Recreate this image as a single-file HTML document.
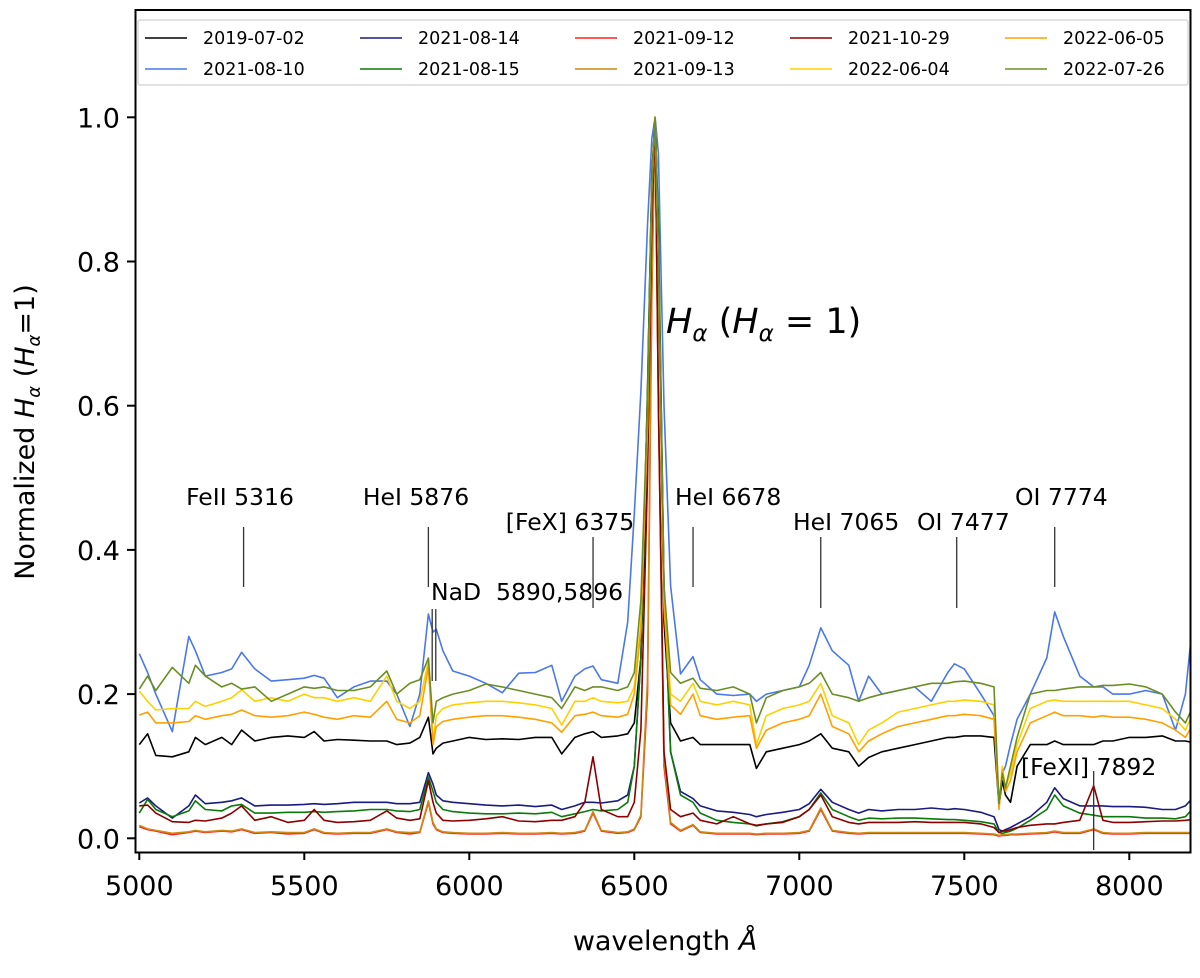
<!DOCTYPE html>
<html><head><meta charset="utf-8"><style>
body{margin:0;background:#fff;}
svg{display:block;font-family:"DejaVu Sans","Liberation Sans",sans-serif;}
</style></head><body>
<svg id="chart" width="1200" height="978" viewBox="0 0 1200 978" xmlns="http://www.w3.org/2000/svg">
<defs><clipPath id="clip"><rect x="136" y="10" width="1055" height="842"/></clipPath></defs>
<rect x="0" y="0" width="1200" height="978" fill="#fff"/>
<g id="series" clip-path="url(#clip)"></g>
<g id="annot"></g>
<rect x="135.5" y="10" width="1055" height="842.5" fill="none" stroke="#000" stroke-width="2"/>
<g id="xticks"></g>
<g id="yticks"></g>
<text x="665" y="950" font-size="27" text-anchor="middle">wavelength <tspan font-style="italic">Å</tspan></text>
<text transform="translate(34,432) rotate(-90)" font-size="27" text-anchor="middle">Normalized <tspan font-style="italic">H</tspan><tspan font-style="italic" font-size="18" dy="6">α</tspan><tspan dy="-6">   (</tspan><tspan font-style="italic">H</tspan><tspan font-style="italic" font-size="18" dy="6">α</tspan><tspan dy="-6">=1)</tspan></text>
<text x="666" y="333" font-size="35"><tspan font-style="italic">H</tspan><tspan font-style="italic" font-size="23" dy="8">α</tspan><tspan dy="-8"> (</tspan><tspan font-style="italic">H</tspan><tspan font-style="italic" font-size="23" dy="8">α</tspan><tspan dy="-8"> = 1)</tspan></text>
<g id="legend"></g>
</svg>
<script>
const wl=[5000,5025,5050,5100,5150,5170,5200,5250,5280,5310,5350,5400,5450,5500,5530,5560,5600,5650,5700,5750,5780,5820,5850,5876,5890,5900,5920,5950,6000,6050,6100,6150,6200,6250,6280,6320,6350,6375,6400,6450,6480,6500,6520,6540,6553,6563,6573,6590,6610,6640,6678,6700,6750,6800,6850,6870,6900,6950,7000,7030,7065,7100,7150,7180,7210,7250,7300,7350,7400,7450,7470,7500,7550,7590,7605,7615,7625,7640,7660,7700,7750,7774,7800,7850,7892,7920,7950,8000,8050,8100,8140,8170,8190];
const seriesLabels=["2019-07-02","2021-08-10","2021-08-14","2021-08-15","2021-09-12","2021-09-13","2021-10-29","2022-06-04","2022-06-05","2022-07-26"];
const s20190702=[.13,.145,.115,.113,.12,.14,.13,.14,.13,.15,.135,.14,.142,.14,.148,.135,.137,.136,.135,.135,.13,.132,.14,.168,.117,.125,.132,.135,.14,.137,.138,.137,.14,.14,.117,.14,.145,.148,.14,.142,.145,.16,.25,.55,.9,1.0,.8,.3,.16,.135,.14,.13,.13,.13,.13,.097,.12,.125,.13,.135,.145,.125,.12,.1,.112,.12,.125,.13,.135,.14,.14,.142,.142,.14,.045,.08,.06,.05,.1,.13,.13,.135,.13,.13,.13,.135,.135,.14,.14,.142,.135,.135,.133];
const s20210810=[.256,.23,.2,.148,.28,.26,.225,.23,.235,.258,.235,.218,.22,.222,.226,.222,.195,.21,.218,.218,.2,.155,.2,.311,.286,.29,.26,.232,.225,.215,.202,.229,.23,.24,.19,.225,.235,.239,.22,.215,.3,.45,.62,.85,.97,1.0,.95,.6,.35,.228,.252,.22,.2,.198,.2,.19,.2,.205,.21,.24,.292,.26,.24,.19,.225,.2,.205,.21,.19,.23,.242,.235,.2,.17,.05,.09,.1,.13,.165,.2,.25,.314,.28,.225,.21,.21,.2,.2,.205,.2,.15,.2,.29];
const s20210814=[.049,.056,.045,.028,.045,.06,.048,.05,.052,.056,.045,.046,.046,.047,.048,.047,.048,.05,.05,.05,.048,.048,.05,.091,.075,.06,.052,.05,.048,.046,.045,.046,.044,.046,.04,.045,.05,.05,.049,.052,.06,.1,.25,.62,.92,1.0,.85,.35,.12,.065,.055,.045,.038,.036,.033,.03,.033,.036,.04,.048,.068,.05,.04,.035,.04,.038,.04,.04,.042,.04,.041,.04,.036,.03,.012,.01,.012,.015,.02,.03,.05,.07,.055,.045,.045,.045,.044,.044,.043,.04,.04,.045,.055];
const s20210815=[.035,.054,.04,.03,.038,.052,.04,.038,.045,.047,.035,.035,.036,.036,.037,.036,.037,.038,.04,.04,.038,.037,.04,.085,.065,.05,.04,.037,.035,.034,.034,.035,.034,.036,.03,.034,.037,.04,.038,.04,.05,.1,.25,.62,.92,1.0,.85,.35,.12,.06,.05,.035,.025,.022,.02,.017,.02,.023,.03,.04,.063,.04,.03,.025,.028,.027,.028,.028,.027,.026,.026,.025,.023,.02,.008,.007,.008,.01,.014,.025,.04,.06,.045,.035,.032,.03,.03,.03,.028,.028,.027,.03,.04];
const s20210912=[.016,.012,.01,.005,.008,.01,.008,.01,.009,.012,.007,.008,.006,.007,.012,.007,.006,.007,.007,.012,.008,.006,.008,.05,.02,.012,.008,.007,.006,.006,.007,.006,.006,.007,.006,.007,.01,.035,.01,.007,.008,.012,.03,.2,.75,1.0,.6,.1,.02,.01,.018,.008,.006,.006,.006,.005,.006,.006,.007,.01,.04,.01,.007,.006,.007,.007,.007,.007,.007,.007,.007,.007,.006,.005,.003,.004,.004,.005,.005,.006,.007,.009,.007,.007,.012,.007,.006,.006,.007,.007,.007,.007,.007];
const s20210913=[.018,.013,.011,.007,.009,.011,.009,.011,.01,.013,.008,.009,.008,.008,.013,.008,.007,.008,.008,.013,.009,.008,.009,.052,.022,.013,.009,.008,.007,.007,.008,.007,.007,.008,.007,.008,.011,.037,.011,.008,.009,.013,.032,.22,.77,1.0,.62,.11,.022,.011,.019,.009,.007,.007,.007,.006,.007,.007,.008,.011,.042,.011,.008,.007,.008,.008,.008,.008,.008,.008,.008,.008,.007,.006,.004,.005,.005,.006,.006,.007,.008,.01,.008,.008,.013,.008,.007,.007,.008,.008,.008,.008,.008];
const s20211029=[.045,.046,.035,.023,.022,.025,.024,.028,.035,.045,.025,.03,.022,.025,.04,.025,.022,.023,.025,.038,.028,.025,.027,.08,.05,.035,.025,.024,.025,.027,.03,.024,.023,.025,.025,.03,.05,.113,.04,.03,.03,.05,.15,.5,.85,1.0,.6,.12,.04,.03,.035,.025,.02,.03,.02,.018,.02,.022,.03,.04,.06,.03,.022,.02,.022,.022,.022,.023,.022,.022,.022,.022,.02,.015,.008,.01,.01,.012,.015,.018,.02,.02,.022,.025,.073,.025,.022,.022,.023,.024,.024,.025,.026];
const s20220604=[.204,.19,.178,.18,.18,.19,.183,.19,.195,.206,.19,.195,.19,.2,.195,.195,.19,.195,.19,.225,.19,.18,.19,.246,.133,.17,.18,.185,.188,.19,.19,.188,.185,.18,.157,.19,.19,.195,.19,.188,.19,.21,.3,.58,.9,1.0,.8,.33,.2,.19,.215,.19,.185,.19,.185,.13,.17,.18,.185,.19,.215,.17,.16,.13,.15,.16,.175,.18,.185,.19,.19,.192,.19,.185,.045,.1,.07,.09,.13,.18,.19,.192,.19,.19,.19,.19,.19,.19,.185,.18,.165,.15,.17];
const s20220605=[.171,.175,.16,.16,.162,.17,.165,.17,.172,.178,.17,.168,.17,.175,.172,.168,.165,.17,.168,.19,.165,.16,.17,.238,.13,.155,.162,.165,.168,.17,.17,.168,.165,.16,.147,.17,.172,.175,.17,.168,.172,.2,.29,.57,.9,1.0,.8,.32,.185,.172,.2,.17,.165,.168,.17,.125,.15,.16,.165,.17,.2,.155,.145,.12,.135,.145,.155,.16,.165,.17,.17,.172,.17,.165,.04,.095,.065,.08,.12,.16,.17,.175,.17,.17,.168,.17,.168,.168,.165,.16,.15,.14,.155];
const s20220726=[.207,.225,.205,.237,.215,.24,.225,.21,.215,.207,.21,.19,.2,.21,.208,.21,.205,.205,.21,.232,.2,.215,.22,.25,.16,.19,.195,.2,.205,.214,.21,.205,.2,.195,.18,.21,.205,.21,.21,.205,.21,.23,.33,.6,.9,1.0,.8,.35,.23,.215,.222,.208,.205,.21,.2,.16,.195,.205,.21,.215,.23,.2,.195,.19,.195,.2,.205,.21,.215,.215,.217,.218,.215,.21,.048,.09,.07,.1,.14,.2,.205,.205,.207,.21,.21,.212,.212,.214,.21,.2,.175,.16,.18];
const seriesValues=[s20190702,s20210810,s20210814,s20210815,s20210912,s20210913,s20211029,s20220604,s20220605,s20220726];
const seriesColors=["#000000","#4a78e8","#1a1a80","#0a7a0a","#ff2020","#cc8a10","#8b0000","#ffd000","#ffa000","#6b8e23"];
const xTicks=[5000,5500,6000,6500,7000,7500,8000];
const yTicks=[0.0,0.2,0.4,0.6,0.8,1.0];
const annLambda=[5316,5876,6375,6678,7065,7477,7774];
const annText=["FeII 5316","HeI 5876","[FeX] 6375","HeI 6678","HeI 7065","OI 7477","OI 7774"];

const NS="http://www.w3.org/2000/svg";
function X(l){return 139.3+(l-5000)*0.3300;}
function Y(v){return 838.3-v*721;}
function mk(tag,attrs,parent){const e=document.createElementNS(NS,tag);for(const k in attrs)e.setAttribute(k,attrs[k]);parent.appendChild(e);return e;}

const gS=document.getElementById('series');
seriesValues.forEach((vals,i)=>{
  let d='';
  vals.forEach((v,j)=>{d+=(j?'L':'M')+X(wl[j]).toFixed(1)+','+Y(v).toFixed(1);});
  const p=mk('path',{d:d,fill:'none',stroke:seriesColors[i],'stroke-width':1.6,'stroke-linejoin':'round'},gS);
  
  
});

const gX=document.getElementById('xticks');
xTicks.forEach(t=>{
  const l=mk('line',{x1:X(t),x2:X(t),y1:852,y2:860,stroke:'#000','stroke-width':2},gX);
  
  
  const tx=mk('text',{x:X(t),y:895,'font-size':27,'text-anchor':'middle'},gX);
  tx.textContent=t;
  
  
});
const gY=document.getElementById('yticks');
yTicks.forEach(t=>{
  const l=mk('line',{x1:127,x2:135,y1:Y(t),y2:Y(t),stroke:'#000','stroke-width':2},gY);
  
  
  const tx=mk('text',{x:120,y:Y(t)+10,'font-size':27,'text-anchor':'end'},gY);
  tx.textContent=t.toFixed(1);
  
  
});

const gA=document.getElementById('annot');
const annHigh=[true,true,false,true,false,false,true];
const annTextX=[240,416,570,675,793,917,1015];
const annAnchor=['middle','middle','middle','start','start','start','start'];
annLambda.forEach((l,i)=>{
  const hi=annHigh[i];
  const ln=mk('line',{x1:X(l),x2:X(l),y1:hi?527:537,y2:hi?587:608,stroke:'#333','stroke-width':1.3},gA);
  
  
  const tx=mk('text',{x:annTextX[i],y:hi?505:530,'font-size':23.5,'text-anchor':annAnchor[i]},gA);
  tx.textContent=annText[i];
  
  
});
[5890,5896].forEach(l=>{
  const ln=mk('line',{x1:X(l)+(l===5890?-0.8:0.8),x2:X(l)+(l===5890?-0.8:0.8),y1:609,y2:681,stroke:'#333','stroke-width':1.3},gA);
  
  
});
const nad=mk('text',{x:431,y:600,'font-size':23.5},gA);
nad.textContent='NaD\u00a0\u00a05890,5896';


const fe11=mk('line',{x1:X(7892),x2:X(7892),y1:771,y2:850,stroke:'#333','stroke-width':1.3},gA);


const fe11t=mk('text',{x:1021,y:775,'font-size':23.5},gA);
fe11t.textContent='[FeXI] 7892';



const gL=document.getElementById('legend');
const box=mk('rect',{x:138,y:20,width:1050,height:65,fill:'#fff','fill-opacity':0.85,stroke:'#d8d8d8','stroke-width':1.5,rx:2},gL);


seriesLabels.forEach((lab,i)=>{
  const c=Math.floor(i/2), r=i%2;
  const yy=38+r*31, x0=145+215*c;
  const g=mk('g',{},gL);
  
  
  mk('line',{x1:x0,x2:x0+42,y1:yy,y2:yy,stroke:seriesColors[i],'stroke-width':1.6},g);
  const t=mk('text',{x:x0+58,y:yy+6,'font-size':17.5},g);
  t.textContent=lab;
});
</script>
</body></html>
